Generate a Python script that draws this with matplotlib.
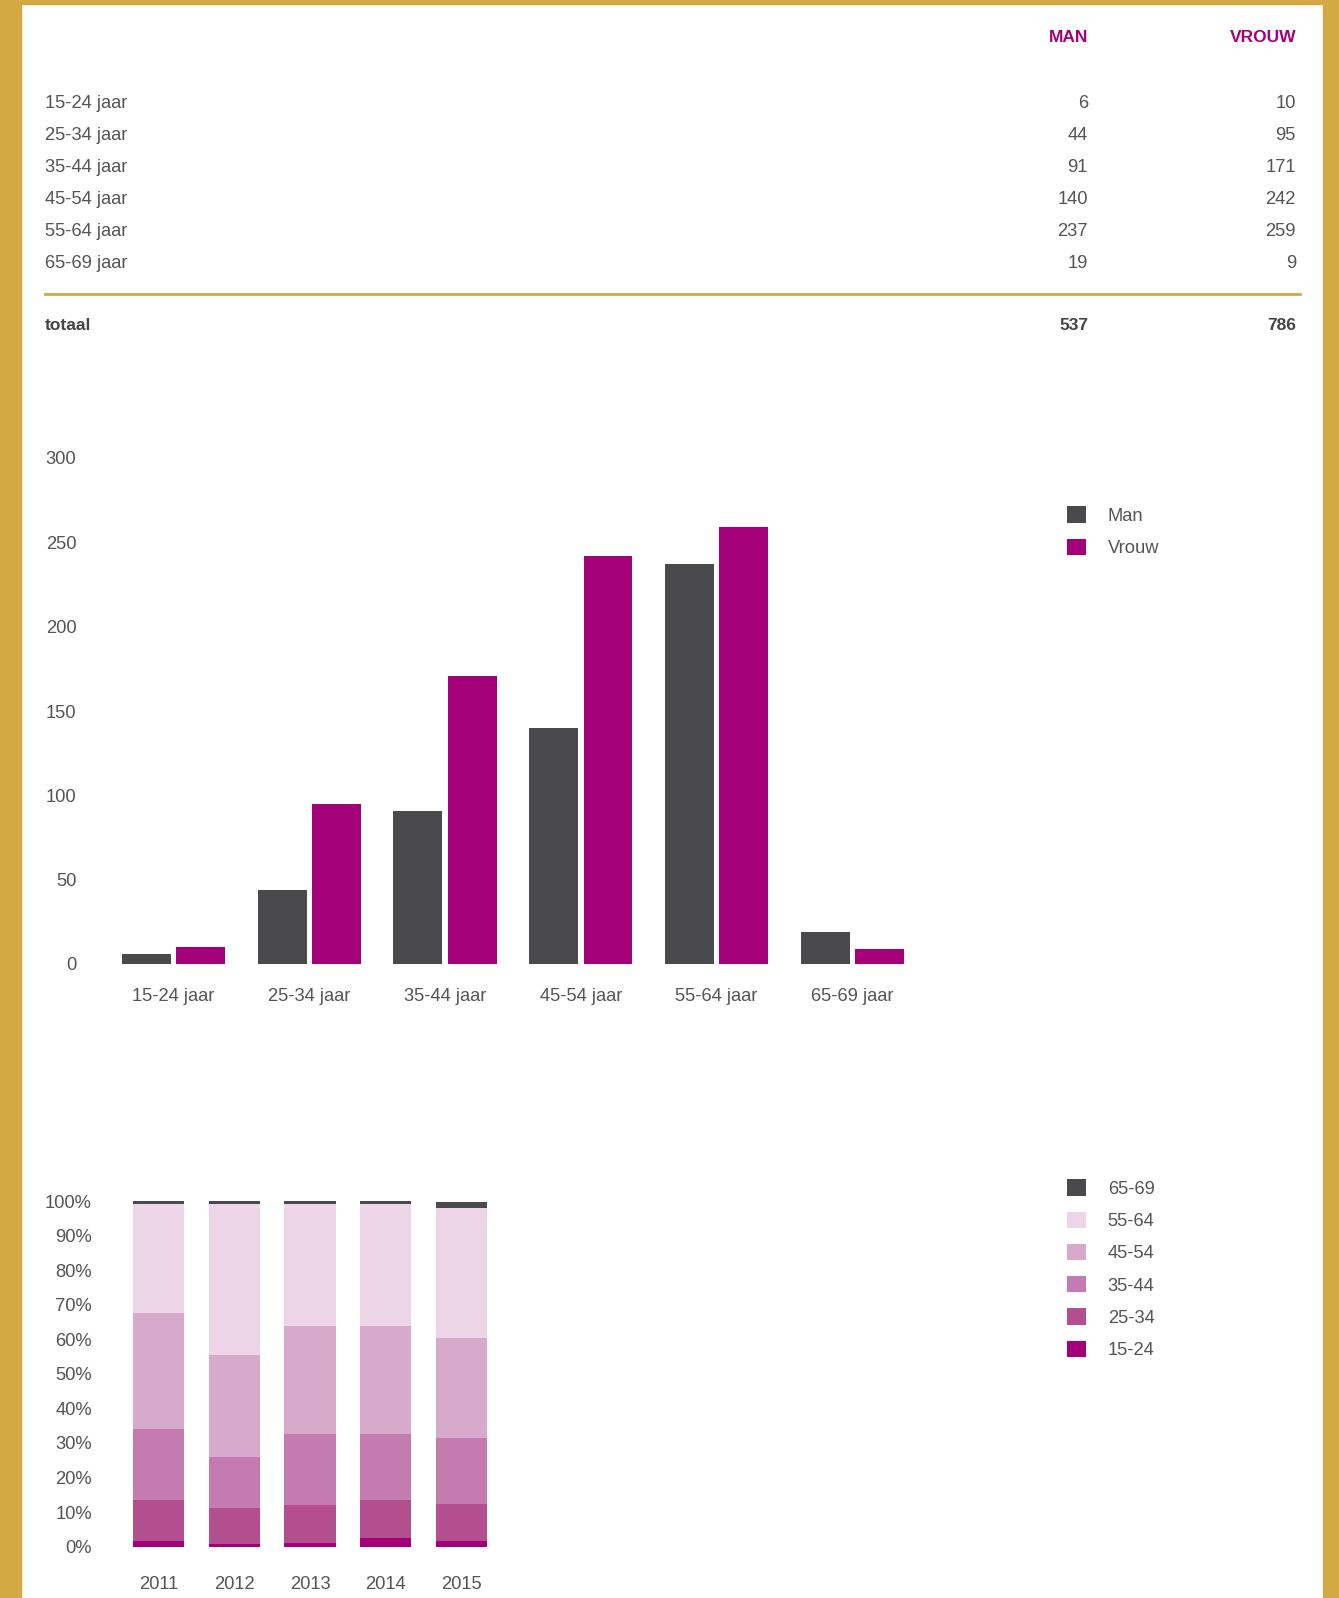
import matplotlib
matplotlib.use("Agg")
import matplotlib.pyplot as plt
from matplotlib.patches import Rectangle
import numpy as np

plt.rcParams['font.family'] = ['Liberation Sans', 'DejaVu Sans']

# ---------------- data ----------------
age_groups = ["15-24 jaar", "25-34 jaar", "35-44 jaar", "45-54 jaar", "55-64 jaar", "65-69 jaar"]
man = [6, 44, 91, 140, 237, 19]
vrouw = [10, 95, 171, 242, 259, 9]
total_man = 537
total_vrouw = 786

years = ["2011", "2012", "2013", "2014", "2015"]
share_labels = ["15-24", "25-34", "35-44", "45-54", "55-64", "65-69"]
share_15_24 = [1.7, 0.8, 1.1, 2.5, 1.6]
share_25_34 = [11.8, 10.4, 11.0, 11.0, 10.7]
share_35_44 = [20.5, 14.7, 20.5, 19.1, 19.1]
share_45_54 = [33.6, 29.5, 31.2, 31.2, 28.9]
share_55_64 = [31.5, 43.7, 35.3, 35.3, 37.6]
share_65_69 = [0.9, 0.9, 0.9, 0.9, 1.8]

# ---------------- style ----------------
W, H = 1339, 1598
GOLD = "#D4A843"
DARK = "#4A4A4C"
MAGENTA = "#A3007A"
TXT = "#555555"
stack_colors = ["#A3007A", "#B34E8F", "#C47BB0", "#D7A9CB", "#EBD5E6", "#4A4A4C"]

fig = plt.figure(figsize=(W / 100, H / 100), dpi=100, facecolor="white")

def fx(x):
    return x / W

def fy(y):
    return 1 - y / H

# gold frame
fig.patches.append(Rectangle((0, 0), fx(21), 1, transform=fig.transFigure, color=GOLD, zorder=0))
fig.patches.append(Rectangle((fx(1323), 0), 1 - fx(1323), 1, transform=fig.transFigure, color=GOLD, zorder=0))
fig.patches.append(Rectangle((0, fy(4)), 1, 1 - fy(4), transform=fig.transFigure, color=GOLD, zorder=0))

# ---------------- table ----------------
x_label, x_man, x_vrouw = 45, 1088, 1296
fig.text(fx(x_man), fy(38), "MAN", color=MAGENTA, fontsize=12.5, fontweight="bold", ha="right", va="center")
fig.text(fx(x_vrouw), fy(38), "VROUW", color=MAGENTA, fontsize=12.5, fontweight="bold", ha="right", va="center")
row_y0, row_dy = 103, 32
for i, (g, m, v) in enumerate(zip(age_groups, man, vrouw)):
    y = row_y0 + i * row_dy
    fig.text(fx(x_label), fy(y), g, color=TXT, fontsize=13.2, ha="left", va="center")
    fig.text(fx(x_man), fy(y), str(m), color=TXT, fontsize=13.2, ha="right", va="center")
    fig.text(fx(x_vrouw), fy(y), str(v), color=TXT, fontsize=13.2, ha="right", va="center")
fig.add_artist(plt.Line2D([fx(45), fx(1300)], [fy(293.5), fy(293.5)], transform=fig.transFigure, color=GOLD, lw=2))
fig.text(fx(x_label), fy(326), "totaal", color="#444444", fontsize=12.5, fontweight="bold", ha="left", va="center")
fig.text(fx(x_man), fy(326), str(total_man), color="#444444", fontsize=12.5, fontweight="bold", ha="right", va="center")
fig.text(fx(x_vrouw), fy(326), str(total_vrouw), color="#444444", fontsize=12.5, fontweight="bold", ha="right", va="center")

# ---------------- grouped bar chart ----------------
ax1 = fig.add_axes([fx(105.6), fy(964), fx(920.3) - fx(105.6), fy(458) - fy(964)])
x = np.arange(len(age_groups))
bw = 0.36
gap = 0.04
ax1.bar(x - (bw + gap) / 2, man, width=bw, color=DARK, label="Man")
ax1.bar(x + (bw + gap) / 2, vrouw, width=bw, color=MAGENTA, label="Vrouw")
ax1.set_xlim(-0.5, len(age_groups) - 0.5)
ax1.set_ylim(0, 300)
ax1.set_yticks(np.arange(0, 301, 50))
ax1.set_xticks(x)
ax1.set_xticklabels(age_groups)
for s in ax1.spines.values():
    s.set_visible(False)
ax1.tick_params(axis="both", length=0, colors=TXT, labelsize=13.2)
ax1.tick_params(axis="x", pad=17)
ax1.tick_params(axis="y", pad=21)
ax1.set_facecolor("none")
ax1.legend(loc="upper left", bbox_to_anchor=(fx(1060), fy(499)), bbox_transform=fig.transFigure,
           frameon=False, fontsize=13.2, handlelength=1.0, handleheight=1.0, handletextpad=1.2,
           labelspacing=0.75, labelcolor=TXT, borderaxespad=0)

# ---------------- stacked percentage chart ----------------
ax2 = fig.add_axes([fx(121), fy(1546.7), fx(499) - fx(121), fy(1201) - fy(1546.7)])
xs = np.arange(len(years))
series = [share_15_24, share_25_34, share_35_44, share_45_54, share_55_64, share_65_69]
bottom = np.zeros(len(years))
handles = []
for lab, vals, col in zip(share_labels, series, stack_colors):
    h = ax2.bar(xs, vals, bottom=bottom, width=0.675, color=col, label=lab)
    handles.append(h)
    bottom += np.array(vals)
ax2.set_xlim(-0.5, len(years) - 0.5)
ax2.set_ylim(0, 100)
ax2.set_yticks(np.arange(0, 101, 10))
ax2.set_yticklabels([f"{v}%" for v in range(0, 101, 10)])
ax2.set_xticks(xs)
ax2.set_xticklabels(years)
for s in ax2.spines.values():
    s.set_visible(False)
ax2.tick_params(axis="both", length=0, colors=TXT, labelsize=13.2)
ax2.tick_params(axis="x", pad=21)
ax2.tick_params(axis="y", pad=21)
ax2.set_facecolor("none")
ax2.legend(handles[::-1], share_labels[::-1], loc="upper left", bbox_to_anchor=(fx(1060), fy(1172)),
           bbox_transform=fig.transFigure, frameon=False, fontsize=13.2, handlelength=1.0,
           handleheight=1.0, handletextpad=1.2, labelspacing=0.75, labelcolor=TXT, borderaxespad=0)

fig.savefig("out.png", dpi=100, facecolor="white")
